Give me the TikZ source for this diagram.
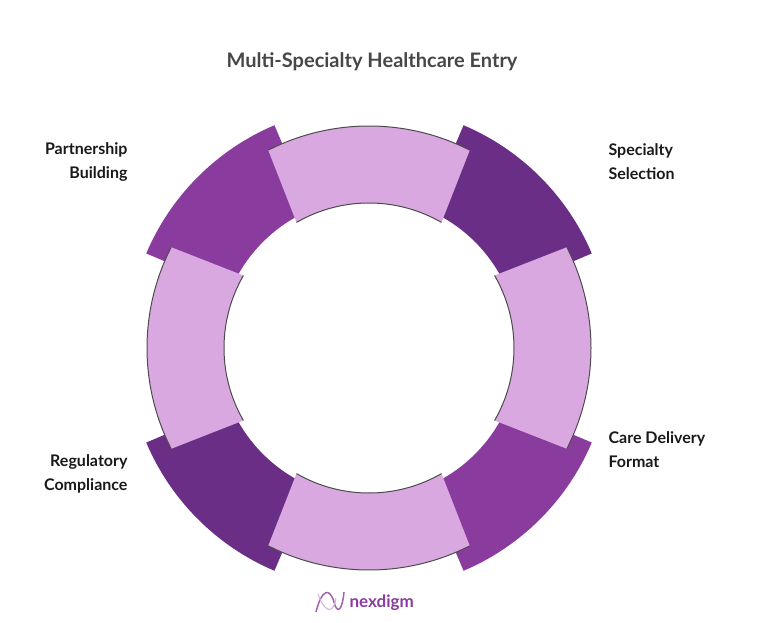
\documentclass[tikz,border=0pt]{standalone}
\usepackage{fontspec}
\setmainfont{Lato}
\begin{document}
\begin{tikzpicture}[x=1pt,y=1pt,
  light/.style={fill=lightp},
  edge/.style={draw=black!70,line width=1pt},
  lab/.style={font=\bfseries\fontsize{16}{24}\selectfont,text=black!90}]
\definecolor{lightp}{HTML}{D9A8E0}
\definecolor{darkp}{HTML}{6B2E86}
\definecolor{midp}{HTML}{8A3B9E}
\useasboundingbox (0,0) rectangle (757,622);
\node[font=\bfseries\fontsize{20}{24}\selectfont,text=black!72] (title) at (372,560) {Multi-Specialty Healthcare Entry};
\begin{scope}[shift={(369,274)}]
  \foreach \a/\c in {45/darkp,135/midp,225/darkp,315/midp}{
    \fill[\c] (\a-22:150) arc (\a-22:\a+22:150) -- (\a+22:242) arc (\a+22:\a-22:242) -- cycle;
  }
  \foreach \a in {0,90,180,270}{
    \fill[lightp] (\a-30:145) arc (\a-30:\a+30:145) -- (\a+27:222) arc (\a+27:\a-27:222) -- cycle;
    \draw[edge] (\a-27:222) arc (\a-27:\a+27:222);
    \draw[edge] (\a-30:145) arc (\a-30:\a+30:145);
  }
\end{scope}
\node[lab,align=right,anchor=east] (pb) at (131,460) {Partnership\\Building};
\node[lab,align=left,anchor=west] (ss) at (605,460) {Specialty\\Selection};
\node[lab,align=left,anchor=west] (cd) at (605,172) {Care Delivery\\Format};
\node[lab,align=right,anchor=east] (rc) at (131,148) {Regulatory\\Compliance};
\draw[midp!80,line width=1.5pt] (316,10) .. controls (322,34) and (330,34) .. (334,20) .. controls (337,8) and (342,10) .. (344,30);
\draw[midp!40,line width=1pt] (318,28) .. controls (326,6) and (334,10) .. (336,24);
\node[font=\bfseries\fontsize{17}{20}\selectfont,text=midp,anchor=west] (logo) at (346,19) {nexdigm};
\end{tikzpicture}
\end{document}
